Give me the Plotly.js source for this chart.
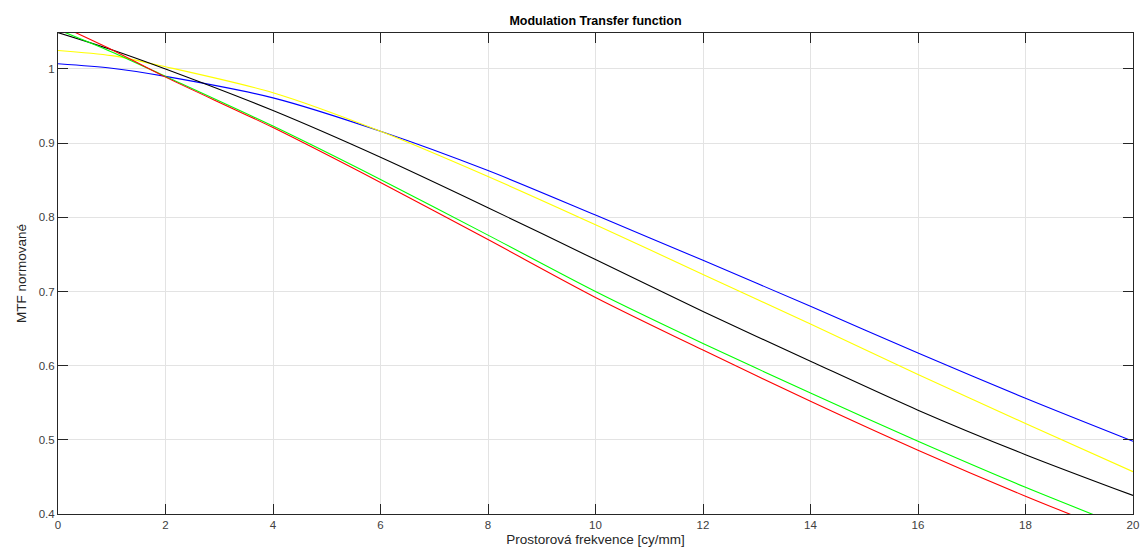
<!DOCTYPE html>
<html>
<head>
<meta charset="utf-8">
<script src="https://cdn.plot.ly/plotly-3.0.1.min.js"></script>
<style>html,body{margin:0;padding:0;background:#fff;}#chart{width:1143px;height:560px;}</style>
</head>
<body>
<div id="chart"></div>
<script>
// Spatial frequency values (cy/mm) and normalised MTF for each curve
const xBlue   = [0, 1, 2, 4, 6, 8, 10, 12, 14, 16, 18, 20];
const yBlue   = [1.007, 1.001, 0.990, 0.961, 0.916, 0.863, 0.803, 0.742, 0.680, 0.617, 0.556, 0.498];

const xYellow = [0, 1, 2, 4, 6, 8, 10, 12, 14, 16, 18, 20];
const yYellow = [1.025, 1.018, 1.003, 0.968, 0.916, 0.855, 0.790, 0.723, 0.656, 0.588, 0.522, 0.457];

const xBlack  = [0, 1, 2, 4, 6, 8, 10, 12, 14, 16, 18, 20];
const yBlack  = [1.049, 1.026, 1.000, 0.944, 0.881, 0.813, 0.743, 0.673, 0.606, 0.540, 0.480, 0.425];

const xGreen  = [0, 1, 2, 4, 6, 8, 10, 12, 14, 16, 18, 20];
const yGreen  = [1.053, 1.023, 0.990, 0.923, 0.851, 0.776, 0.700, 0.630, 0.563, 0.498, 0.436, 0.378];

const xRed    = [0, 1, 2, 4, 6, 8, 10, 12, 14, 16, 18, 20];
const yRed    = [1.060, 1.026, 0.989, 0.921, 0.847, 0.770, 0.692, 0.621, 0.552, 0.486, 0.424, 0.366];

const xTicks  = [0, 2, 4, 6, 8, 10, 12, 14, 16, 18, 20];
const yTicks  = [0.4, 0.5, 0.6, 0.7, 0.8, 0.9, 1];
const yTickLabels = ['0.4', '0.5', '0.6', '0.7', '0.8', '0.9', '1'];

function tr(x, y, color) {
  return {x: x, y: y, type: 'scatter', mode: 'lines',
          line: {color: color, width: 1.1, shape: 'spline', smoothing: 0.8},
          hoverinfo: 'skip', showlegend: false};
}

const data = [
  tr(xBlue, yBlue, '#0000ff'),
  tr(xYellow, yYellow, '#ffff00'),
  tr(xBlack, yBlack, '#000000'),
  tr(xGreen, yGreen, '#00ff00'),
  tr(xRed, yRed, '#ff0000')
];

const axisCommon = {
  showline: true, linecolor: '#262626', linewidth: 1, mirror: 'allticks',
  ticks: 'inside', ticklen: 10, tickwidth: 1, tickcolor: '#262626',
  showgrid: true, gridcolor: '#e3e3e3', gridwidth: 1, zeroline: false,
  tickfont: {family: 'Liberation Sans, Arial, sans-serif', size: 11.5, color: '#404040'}
};

const layout = {
  width: 1143, height: 560,
  margin: {l: 58, r: 10, t: 33, b: 46},
  paper_bgcolor: '#ffffff', plot_bgcolor: '#ffffff',
  title: {text: '<b>Modulation Transfer function</b>', x: 0.521, xanchor: 'center', y: 0.963, yanchor: 'middle',
          font: {family: 'Liberation Sans, Arial, sans-serif', size: 12.5, color: '#000000'}},
  xaxis: Object.assign({}, axisCommon, {
    range: [0, 20], tickvals: xTicks, ticktext: xTicks.map(String),
    title: {text: 'Prostorová frekvence [cy/mm]', standoff: 4,
            font: {family: 'Liberation Sans, Arial, sans-serif', size: 13.5, color: '#262626'}}
  }),
  yaxis: Object.assign({}, axisCommon, {
    range: [0.4, 1.0485], tickvals: yTicks, ticktext: yTickLabels,
    title: {text: 'MTF normované', standoff: 8,
            font: {family: 'Liberation Sans, Arial, sans-serif', size: 13.5, color: '#262626'}}
  })
};

Plotly.newPlot('chart', data, layout, {displayModeBar: false, staticPlot: true});
</script>
</body>
</html>
